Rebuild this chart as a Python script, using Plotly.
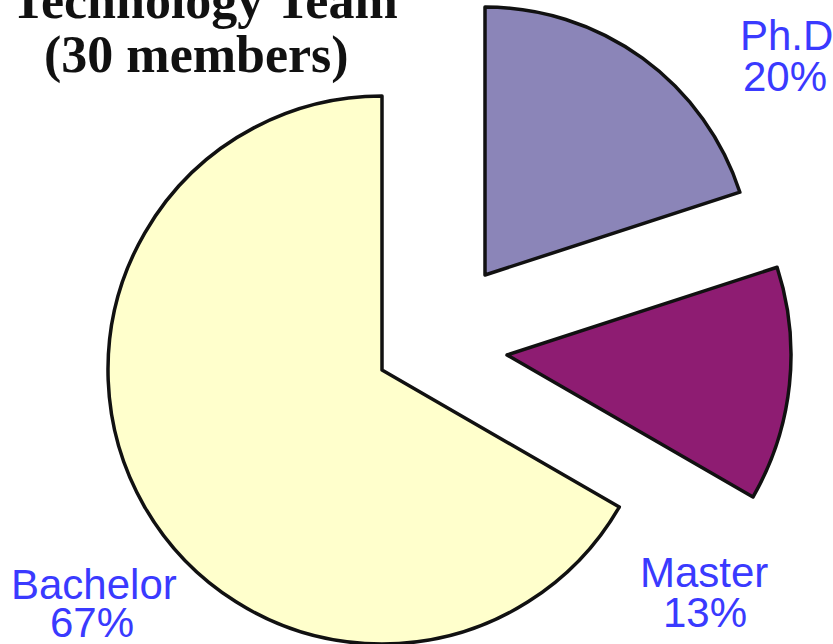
import plotly.graph_objects as go

# ---- data ----
categories = ["Ph.D", "Master", "Bachelor"]
members = [6, 4, 20]
title_lines = ["Technology Team", "(30 members)"]

# ---- style ----
fill_colors = ["#8b85b8", "#8e1c72", "#ffffcc"]
label_color = "#3a3aff"
W, H = 833, 644

# per-slice exploded placement: (center x px, center y px from top, radius px)
placement = {
    "Ph.D": (485, 275, 268),
    "Master": (507, 355, 284),
    "Bachelor": (382, 370, 274),
}

fig = go.Figure()
for i, cat in enumerate(categories):
    cx, cy, r = placement[cat]
    colors = ["rgba(0,0,0,0)"] * len(categories)
    colors[i] = fill_colors[i]
    widths = [0] * len(categories)
    widths[i] = 3.5
    x0, x1 = (cx - r) / W, (cx + r) / W
    y0, y1 = (H - cy - r) / H, (H - cy + r) / H
    fig.add_trace(go.Pie(
        labels=categories,
        values=members,
        sort=False,
        direction="clockwise",
        rotation=0,
        textinfo="none",
        hoverinfo="label+percent",
        showlegend=False,
        marker=dict(colors=colors, line=dict(color="#111111", width=widths)),
        domain=dict(x=[max(0, x0), min(1, x1)], y=[max(0, y0), min(1, y1)]),
    ))

total = sum(members)
pcts = [f"{round(100 * v / total)}%" for v in members]

# label positions (center x px, cap-middle y px) for name line and percent line
label_pos = {
    "Ph.D": ((786, 35), (785, 76)),
    "Master": ((704, 572), (705, 612)),
    "Bachelor": ((94, 584), (92, 622)),
}

annotations = []
for cat, pct in zip(categories, pcts):
    (nx, ny), (px, py) = label_pos[cat]
    for txt, x, y in ((cat, nx, ny), (pct, px, py)):
        annotations.append(dict(
            text=txt, x=x / W, y=1 - y / H, xref="paper", yref="paper",
            xanchor="center", yanchor="middle", showarrow=False,
            font=dict(family="Liberation Sans, Arial, sans-serif", size=42, color=label_color),
        ))

title_pos = [(204, 0), (196, 55)]
for txt, (x, y) in zip(title_lines, title_pos):
    annotations.append(dict(
        text=f"<b>{txt}</b>", x=x / W, y=1 - y / H, xref="paper", yref="paper",
        xanchor="center", yanchor="middle", showarrow=False,
        font=dict(family="Liberation Serif, Times New Roman, serif", size=52, color="#111111"),
    ))

fig.update_layout(
    width=W, height=H, autosize=False,
    margin=dict(l=0, r=0, t=0, b=0),
    paper_bgcolor="white", plot_bgcolor="white",
    annotations=annotations,
)

fig.write_html(
    "out.html",
    config={"displayModeBar": False},
    post_script="document.body.style.margin='0';document.body.style.overflow='hidden';",
)
